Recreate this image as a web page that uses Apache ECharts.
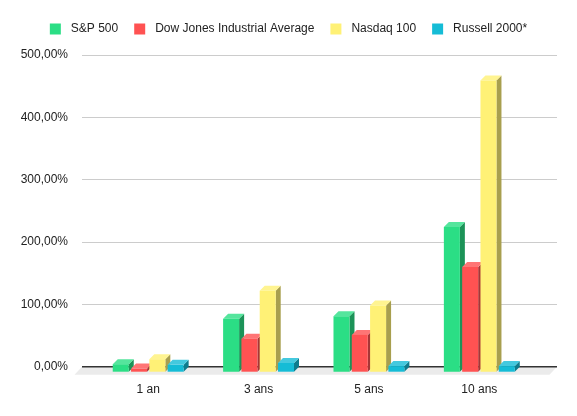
<!DOCTYPE html>
<html>
<head>
<meta charset="utf-8">
<script src="https://cdn.jsdelivr.net/npm/echarts@6/dist/echarts.min.js"></script>
<style>
  html, body { margin: 0; padding: 0; background: #fff; }
  #chart { width: 577px; height: 416px; }
</style>
</head>
<body>
<div id="chart"></div>
<script>
const categories = ['1 an', '3 ans', '5 ans', '10 ans']
const seriesNames = ['S&P 500', 'Dow Jones Industrial Average', 'Nasdaq 100', 'Russell 2000*']
const sp500 = [12, 85, 89, 232]
const dowJones = [5, 53, 59, 168]
const nasdaq100 = [20, 130, 106, 467]
const russell2000 = [11, 14, 9, 9]
const yTicks = [0, 100, 200, 300, 400, 500]

const colors = ['#2bde85', '#ff5252', '#fff176', '#15bcd6']
const BAR_W = 16
const BAR_STEP = 18.3
const DEPTH = 5
const FONT = 'Arial, "Liberation Sans", sans-serif'

function shade(hex, f) {
    const n = parseInt(hex.slice(1), 16)
    const c = [(n >> 16) & 255, (n >> 8) & 255, n & 255].map(v => Math.round(v * f))
    return `rgb(${c.join(',')})`
}
function lighten(hex, t) {
    const n = parseInt(hex.slice(1), 16)
    const c = [(n >> 16) & 255, (n >> 8) & 255, n & 255].map(v => Math.round(v + (255 - v) * t))
    return `rgb(${c.join(',')})`
}

// front face + top + right side, offset per series inside the band
function bar3d(k) {
    const color = colors[k]
    return function (params, api) {
        const cat = api.value(0)
        const base = api.coord([cat, 0])
        const top = api.coord([cat, api.value(1)])
        const x = base[0] + (k - 1.5) * BAR_STEP - BAR_W / 2
        const by = base[1]
        const ty = top[1]
        const w = BAR_W
        const d = DEPTH
        return {
            type: 'group',
            children: [
                {
                    type: 'polygon',
                    shape: { points: [[x + w, ty], [x + w + d, ty - d], [x + w + d, by - d], [x + w, by]] },
                    style: { fill: shade(color, 0.66) }
                },
                {
                    type: 'polygon',
                    shape: { points: [[x, ty], [x + d, ty - d], [x + w + d, ty - d], [x + w, ty]] },
                    style: { fill: lighten(color, 0.2) }
                },
                {
                    type: 'rect',
                    shape: { x: x, y: ty, width: w, height: by - ty },
                    style: { fill: color }
                }
            ]
        }
    }
}

function floor(params, api) {
    const cs = params.coordSys
    const yb = cs.y + cs.height
    return {
        type: 'group',
        children: [
            {
                type: 'polygon',
                shape: { points: [[cs.x, yb], [cs.x + cs.width, yb], [cs.x + cs.width - 7.5, yb + 8], [cs.x - 7.5, yb + 8]] },
                style: { fill: '#ebebeb' }
            },
            {
                type: 'line',
                shape: { x1: cs.x, y1: yb, x2: cs.x + cs.width, y2: yb },
                style: { stroke: '#333', lineWidth: 1.5 }
            }
        ]
    }
}

const values = [sp500, dowJones, nasdaq100, russell2000]

const chart = echarts.init(document.getElementById('chart'))
chart.setOption({
    animation: false,
    textStyle: { fontFamily: FONT },
    legend: {
        top: 18,
        left: 'center',
        icon: 'rect',
        itemWidth: 11,
        itemHeight: 11,
        itemGap: 16,
        data: seriesNames,
        textStyle: { fontSize: 12, color: '#222', fontFamily: FONT, padding: [0, 0, 0, 5] }
    },
    grid: [
        { left: 82, right: 20, top: 55, bottom: 49.3 },
        { left: 93, right: 42.5, top: 60, bottom: 44.3 }
    ],
    xAxis: [
        { type: 'category', gridIndex: 0, data: categories, show: false },
        {
            type: 'category',
            gridIndex: 1,
            data: categories,
            axisLine: { show: false },
            axisTick: { show: false },
            axisLabel: { margin: 12, fontSize: 12, color: '#222', fontFamily: FONT }
        }
    ],
    yAxis: [
        {
            type: 'value',
            gridIndex: 0,
            min: yTicks[0],
            max: yTicks[yTicks.length - 1],
            interval: 100,
            axisLine: { show: false },
            axisTick: { show: false },
            splitLine: { lineStyle: { color: '#cccccc', width: 1 } },
            axisLabel: {
                margin: 14,
                fontSize: 12,
                color: '#222',
                fontFamily: FONT,
                padding: [4, 0, 0, 0],
                formatter: v => v.toFixed(2).replace('.', ',') + '%'
            }
        },
        { type: 'value', gridIndex: 1, min: 0, max: 500, show: false }
    ],
    series: [
        {
            type: 'custom',
            xAxisIndex: 0,
            yAxisIndex: 0,
            renderItem: floor,
            data: [[0, 0]],
            z: 1,
            silent: true
        }
    ].concat(values.map((vals, k) => ({
        name: seriesNames[k],
        type: 'custom',
        xAxisIndex: 1,
        yAxisIndex: 1,
        itemStyle: { color: colors[k] },
        renderItem: bar3d(k),
        encode: { x: 0, y: 1 },
        data: vals.map((v, i) => [i, v]),
        z: 2
    })))
})
</script>
</body>
</html>
